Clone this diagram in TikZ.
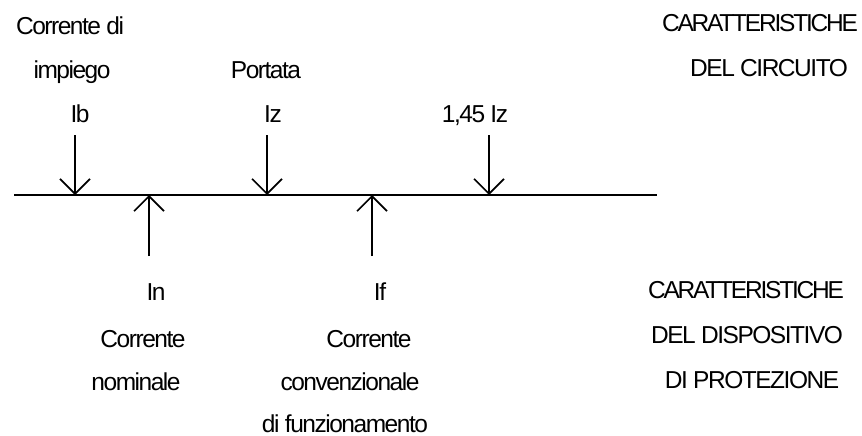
\documentclass[tikz,border=0pt]{standalone}
\usepackage{fontspec}
\setmainfont{Liberation Sans}[LetterSpace=-6]
\newfontfamily\tightfont{Liberation Sans}[LetterSpace=-9]
\usetikzlibrary{arrows.meta}
\tikzset{
  lbl/.style={anchor=base, inner sep=0pt, font=\fontsize{24.5}{29}\selectfont},
  tightlbl/.style={lbl, font=\fontsize{24.5}{29}\selectfont\tightfont},
  curr/.style={line width=1.6pt, -{Straight Barb[length=15pt,width=30pt]}}
}

\begin{document}
\begin{tikzpicture}[x=1pt, y=-1pt]
      \useasboundingbox (0,0) rectangle (862,436);
      % asse
      \coordinate (axl) at (14,195);
      \coordinate (axr) at (657,195);
      \draw[line width=1.6pt] (axl) -- (axr);
      % caratteristiche del circuito
      \node[lbl] (ibtxt1) at (70,35) {Corrente di};
      \node[lbl] (ibtxt2) at (72,78) {impiego};
      \node[lbl] (ib) at (80,122) {Ib};
      \node[lbl] (iztxt) at (266,78) {Portata};
      \node[lbl] (iz) at (273,122) {Iz};
      \node[lbl] (iff) at (475,122) {1,45 Iz};
      \coordinate (ibtop) at (75,135);
      \coordinate (ibax) at (75,195);
      \coordinate (iztop) at (267,135);
      \coordinate (izax) at (267,195);
      \coordinate (ifftop) at (489,135);
      \coordinate (iffax) at (489,195);
      \draw[curr] (ibtop) -- (ibax);
      \draw[curr] (iztop) -- (izax);
      \draw[curr] (ifftop) -- (iffax);
      \node[tightlbl] (circ1) at (760,32) {CARATTERISTICHE};
      \node[lbl] (circ2) at (769,77) {DEL CIRCUITO};
      % caratteristiche del dispositivo
      \coordinate (inbot) at (149,256);
      \coordinate (inax) at (149,195);
      \coordinate (ifbot) at (372,256);
      \coordinate (ifax) at (372,195);
      \draw[curr] (inbot) -- (inax);
      \draw[curr] (ifbot) -- (ifax);
      \node[lbl] (in) at (156,300) {In};
      \node[lbl] (intxt1) at (143,347) {Corrente};
      \node[lbl] (intxt2) at (136,390) {nominale};
      \node[lbl] (if) at (380,300) {If};
      \node[lbl] (iftxt1) at (369,347) {Corrente};
      \node[lbl] (iftxt2) at (350,390) {convenzionale};
      \node[lbl] (iftxt3) at (345,432) {di funzionamento};
      \node[tightlbl] (disp1) at (746,298) {CARATTERISTICHE};
      \node[lbl] (disp2) at (747,343) {DEL DISPOSITIVO};
      \node[lbl] (disp3) at (752,388) {DI PROTEZIONE};
\end{tikzpicture}
\end{document}
